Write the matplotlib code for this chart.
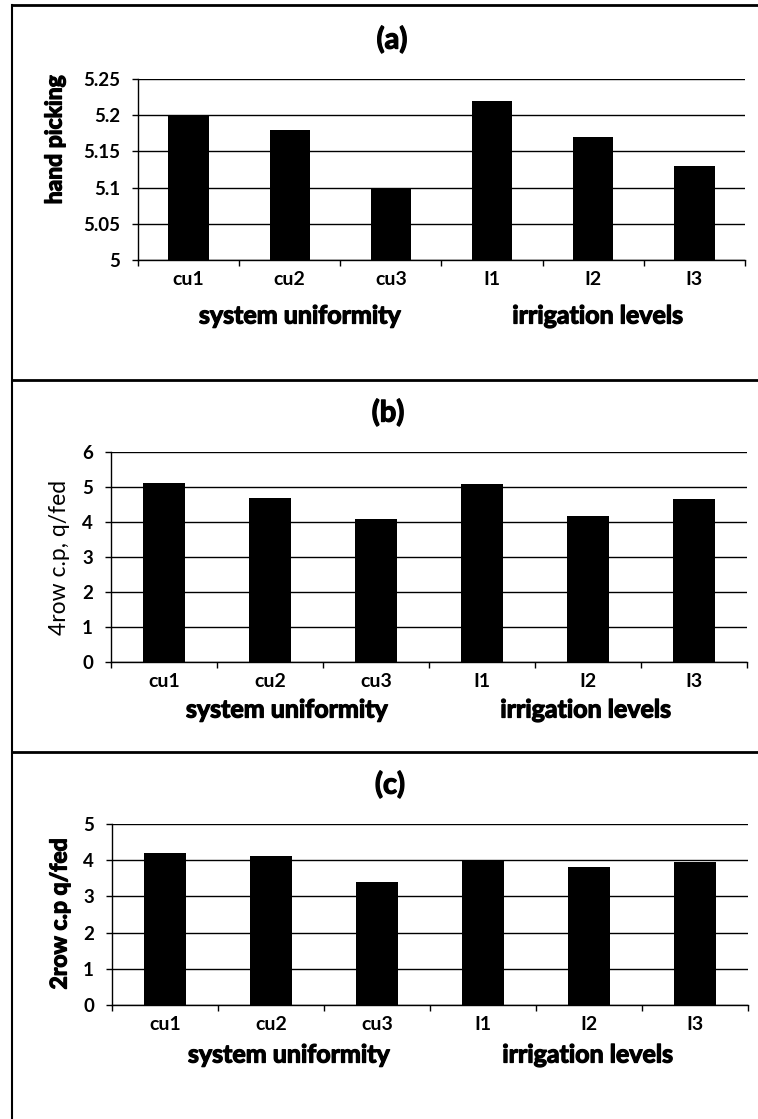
import numpy as np
import matplotlib
matplotlib.use('Agg')
import matplotlib.pyplot as plt
import matplotlib.patheffects as pe
from matplotlib.lines import Line2D

plt.rcParams['font.family'] = ['Lato', 'DejaVu Sans']

# data
categories = ['cu1', 'cu2', 'cu3', 'I1', 'I2', 'I3']
hand_picking = [5.20, 5.18, 5.10, 5.22, 5.17, 5.13]
row4_cp = [5.11, 4.68, 4.09, 5.10, 4.16, 4.65]
row2_cp = [4.20, 4.11, 3.40, 4.01, 3.81, 3.96]

panels = [
    # title, ylabel, values, ylim, yticks, ytick labels, ylabel weight
    ('(a)', 'hand picking', hand_picking, (5, 5.25),
     [5, 5.05, 5.1, 5.15, 5.2, 5.25], ['5', '5.05', '5.1', '5.15', '5.2', '5.25'], 'bold'),
    ('(b)', '4row c.p, q/fed', row4_cp, (0, 6),
     [0, 1, 2, 3, 4, 5, 6], ['0', '1', '2', '3', '4', '5', '6'], 'normal'),
    ('(c)', '2row c.p q/fed', row2_cp, (0, 5),
     [0, 1, 2, 3, 4, 5], ['0', '1', '2', '3', '4', '5'], 'bold'),
]

W, H = 758, 1119
fig = plt.figure(figsize=(W / 100, H / 100), dpi=100)

# axes boxes in pixels: left, right, top, bottom
boxes = [(138, 745, 79, 260), (111, 747, 452, 662), (112, 748, 824, 1005)]
title_pos = [(392, 40), (388, 413), (390, 785)]
sys_pos = [(300, 316), (287, 710), (289, 1055)]
irr_pos = [(598, 316), (586, 710), (588, 1055)]
ylab_pos = [(55, 140), (60, 557), (60, 914)]

# scanned text looks heavier than plain bold
thick = [pe.withStroke(linewidth=0.9, foreground='black')]


def fx(px):
    return px / W


def fy(py):
    return 1 - py / H


for i, (title, ylab, vals, ylim, yt, ytl, ylw) in enumerate(panels):
    l, r, t, b = boxes[i]
    ax = fig.add_axes([fx(l), fy(b), fx(r) - fx(l), fy(t) - fy(b)])
    x = np.arange(len(categories))
    ax.bar(x, np.array(vals) - ylim[0], bottom=ylim[0], width=0.4, color='black', zorder=3)
    ax.set_ylim(*ylim)
    ax.set_xlim(-0.5, len(categories) - 0.5)
    ax.set_yticks(yt)
    ax.set_yticklabels(ytl, fontsize=13.5, fontweight='bold')
    ax.set_xticks(x)
    ax.set_xticklabels(categories, fontsize=14, fontweight='bold')
    ax.set_xticks(np.arange(-0.5, len(categories)), minor=True)
    ax.tick_params(axis='x', which='major', length=0, pad=8)
    ax.tick_params(axis='x', which='minor', length=4, width=1, direction='out')
    ax.tick_params(axis='y', length=4, width=1, direction='out', pad=9)
    ax.yaxis.grid(True, color='black', linewidth=1, zorder=0)
    for s in ['top', 'right']:
        ax.spines[s].set_visible(False)
    ax.spines['left'].set_linewidth(1)
    ax.spines['bottom'].set_linewidth(1)

    fig.text(fx(title_pos[i][0]), fy(title_pos[i][1]), title, fontsize=21,
             fontweight='bold', ha='center', va='center', path_effects=thick)
    fig.text(fx(sys_pos[i][0]), fy(sys_pos[i][1]), 'system uniformity', fontsize=18,
             fontweight='bold', ha='center', va='center', path_effects=thick)
    fig.text(fx(irr_pos[i][0]), fy(irr_pos[i][1]), 'irrigation levels', fontsize=18,
             fontweight='bold', ha='center', va='center', path_effects=thick)
    fig.text(fx(ylab_pos[i][0]), fy(ylab_pos[i][1]), ylab, fontsize=16.5, fontweight=ylw,
             rotation=90, ha='center', va='center',
             path_effects=thick if ylw == 'bold' else None)

# panel frame lines
fig.add_artist(Line2D([fx(12), fx(12)], [fy(5), fy(1119)], color='black', lw=1.5))
for yy in [5, 380, 752]:
    fig.add_artist(Line2D([fx(12), fx(758)], [fy(yy), fy(yy)], color='black', lw=2))

fig.savefig('out.png', dpi=100)
